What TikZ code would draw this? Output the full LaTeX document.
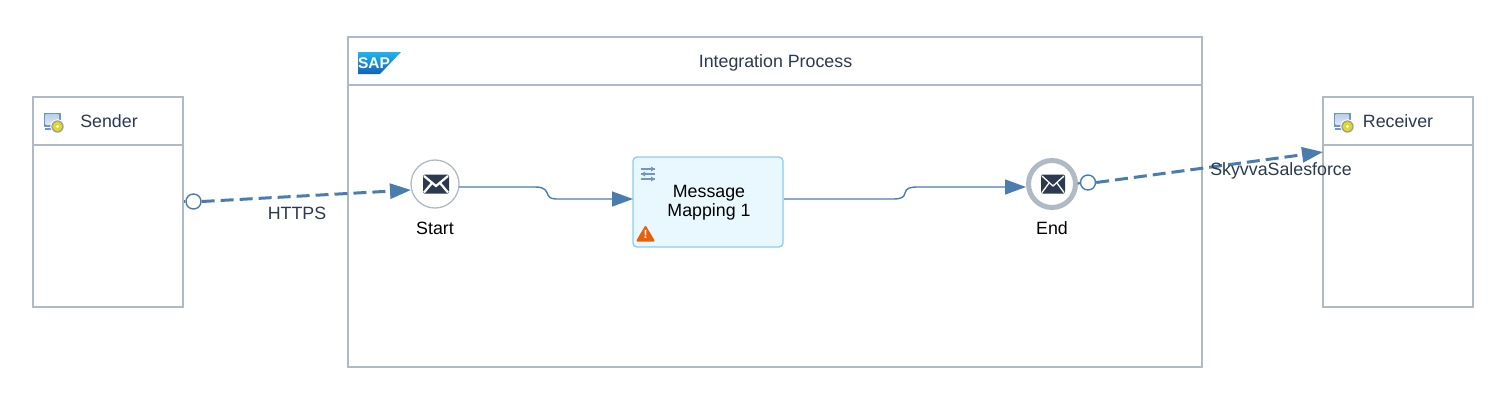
\documentclass[tikz,border=0pt]{standalone}
\usepackage{fontspec}
\setmainfont{Liberation Sans}
\usetikzlibrary{arrows.meta,calc,shadings}
\definecolor{boxline}{HTML}{B0BAC5}
\definecolor{flow}{HTML}{4A7DAE}
\definecolor{ink}{HTML}{2B3A4E}
\definecolor{mapfill}{HTML}{E9F8FF}
\definecolor{mapline}{HTML}{8CCBF2}
\definecolor{warn}{HTML}{E9600A}
\definecolor{iconblue}{HTML}{6F97C6}
\definecolor{iconlight}{HTML}{BCD0E8}
\definecolor{saptop}{HTML}{1FB4EE}
\definecolor{sapbot}{HTML}{1262B8}
\tikzset{
  x=1pt,y=-1pt,
  pool/.style={draw=boxline,line width=1.5pt,fill=white,minimum width=150pt,minimum height=210pt,anchor=north west,inner sep=0pt,outer sep=0pt},
  lbl/.style={font=\fontsize{17.8}{21}\selectfont,text=ink,inner sep=0pt},
  evlbl/.style={font=\fontsize{17.8}{21}\selectfont,text=black,inner sep=0pt},
  seq/.style={draw=flow,line width=1.4pt,-{Triangle[length=21pt,width=15pt]}},
  msg/.style={draw=flow,line width=3pt,dash pattern=on 13pt off 6pt,-{Triangle[length=21pt,width=15pt]}},
  port/.style={circle,draw=flow,line width=1.4pt,fill=white,minimum size=15pt,inner sep=0pt},
}
\newcommand{\envelope}[4]{% center x, y, stroke width, half width
  \fill[ink,rounded corners=1.5pt] (#1-#4,#2-9.5) rectangle (#1+#4,#2+9.5);
  \draw[white,line width=#3pt] (#1-#4+1,#2-8) -- (#1,#2+2) -- (#1+#4-1,#2-8);
  \draw[white,line width=#3pt] (#1-#4+1,#2+8.5) -- (#1-4,#2-1) (#1+#4-1,#2+8.5) -- (#1+4,#2-1);
}
\newcommand{\sysicon}[2]{% left x, top y
  \fill[iconblue] (#1,#2) rectangle (#1+17,#2+14);
  \shade[top color=iconlight,bottom color=iconlight!50!white] (#1+2,#2+2) rectangle (#1+15,#2+12);
  \fill[iconblue] (#1+1,#2+15.5) rectangle (#1+11,#2+17);
  \fill[white] (#1+14,#2+14) circle (7.2);
  \fill[gray!75] (#1+14,#2+14) circle (6.2);
  \fill[yellow!70!olive!85] (#1+14,#2+14) circle (4.8);
  \fill[white] (#1+14,#2+14) circle (1.7);
}
\begin{document}
\begin{tikzpicture}
\useasboundingbox (0,0) rectangle (1507,400);
\fill[white] (0,0) rectangle (1507,400);

% pools
\node[pool] (sender) at (33,97) {};
\node[pool] (receiver) at (1323,97) {};
\node[pool,minimum width=854pt,minimum height=330pt] (proc) at (348,37) {};
\coordinate (shl) at (33,145); \coordinate (shr) at (183,145);
\coordinate (rhl) at (1323,145); \coordinate (rhr) at (1473,145);
\coordinate (phl) at (348,85); \coordinate (phr) at (1202,85);
\draw[boxline,line width=1.5pt] (shl) -- (shr);
\draw[boxline,line width=1.5pt] (rhl) -- (rhr);
\draw[boxline,line width=1.5pt] (phl) -- (phr);

% titles
\node[lbl] (sendertxt) at (109,121) {Sender};
\node[lbl] (receivertxt) at (1398,121) {Receiver};
\node[lbl] (proctxt) at (775.5,62.5) {Integration Process};

% icons
\sysicon{43.5}{112.5}
\sysicon{1333.5}{112.5}

% SAP logo
\shade[top color=saptop,bottom color=sapbot] (358,52) -- (401,52) -- (380,74) -- (358,74) -- cycle;
\node[inner sep=0pt,text=white,font=\fontsize{15.5}{15.5}\selectfont\bfseries] (saptxt) at (374,63.5) {SAP};

% events and task
\node[circle,draw=boxline,line width=1.3pt,fill=white,minimum size=48pt,inner sep=0pt] (start) at (435,184) {};
\envelope{436}{184}{2.2}{13}
\node[evlbl] (starttxt) at (435,228) {Start};

\node[draw=mapline,line width=1.3pt,fill=mapfill,rounded corners=4pt,minimum width=150pt,minimum height=90pt,inner sep=0pt] (map) at (708,202) {};
\node[evlbl,align=center,font=\fontsize{17.8}{19}\selectfont] (maptxt) at (709,203) {Message\\Mapping 1};
% task icon
\draw[iconblue,line width=1.4pt] (641,169) -- (655,169) (641,174) -- (655,174) (641,179) -- (655,179);
\fill[iconblue] (651,166.5) -- (655,169) -- (651,171.5) -- cycle;
\fill[iconblue] (645,171.5) -- (641,174) -- (645,176.5) -- cycle;
\fill[iconblue] (651,176.5) -- (655,179) -- (651,181.5) -- cycle;
% warning
\fill[warn,draw=warn,line width=2pt,line join=round] (645.5,227) -- (653.5,240.5) -- (637.5,240.5) -- cycle;
\node[inner sep=0pt,text=white,font=\fontsize{12}{12}\selectfont\bfseries] (warntxt) at (645.5,234.5) {!};

\node[circle,draw=boxline,line width=5pt,fill=white,minimum size=47pt,inner sep=0pt] (end) at (1052,184) {};
\envelope{1053}{184}{1.3}{12}
\node[evlbl] (endtxt) at (1052,228) {End};

% sequence flows
\coordinate (mapin) at (633,199);
\coordinate (mapout) at (784,199);
\coordinate (endin) at (1026,187);
\coordinate (startout) at (459,187);
\draw[seq] (startout) -- (535,187) .. controls (546,187) and (546,191) .. (548,195) .. controls (550,199) and (553,199) .. (560,199) -- (mapin);
\draw[seq] (mapout) -- (893,199) .. controls (902,199) and (904,197) .. (905,193) .. controls (906,188) and (910,187) .. (918,187) -- (endin);

% message flows
\node[port] (p1) at (193.5,201.5) {};
\node[port] (p2) at (1088,182.5) {};
\coordinate (srcedge) at (184,201.5);
\draw[flow,line width=3pt] (srcedge) -- (p1.west);
\draw[flow,line width=2.2pt] (end.east) -- (p2.west);
\coordinate (startin) at (411,190);
\coordinate (recvin) at (1323,152);
\draw[msg] (p1.east) -- (startin);
\draw[msg] (p2.east) -- (recvin);

% connector labels
\node[lbl] (httpstxt) at (297,213) {HTTPS};
\node[lbl] (skytxt) at (1281,170.5) {SkyvvaSalesforce};
\end{tikzpicture}
\end{document}
